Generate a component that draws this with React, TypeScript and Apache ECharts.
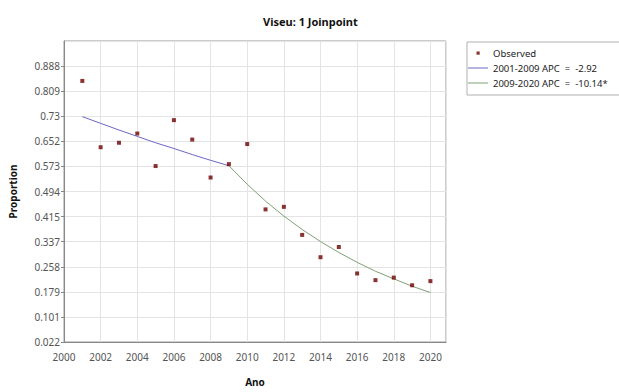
import React, { useEffect, useRef } from "react";
import * as echarts from "echarts";

const years = [2001, 2002, 2003, 2004, 2005, 2006, 2007, 2008, 2009, 2010, 2011, 2012, 2013, 2014, 2015, 2016, 2017, 2018, 2019, 2020];
const observed = [0.841, 0.633, 0.647, 0.676, 0.574, 0.718, 0.657, 0.538, 0.580, 0.643, 0.438, 0.446, 0.358, 0.288, 0.320, 0.237, 0.216, 0.224, 0.200, 0.213];

const seg1Years = [2001, 2002, 2003, 2004, 2005, 2006, 2007, 2008, 2009];
const seg1Values = [0.729, 0.708, 0.687, 0.667, 0.647, 0.629, 0.610, 0.592, 0.575];

const seg2Years = [2009, 2010, 2011, 2012, 2013, 2014, 2015, 2016, 2017, 2018, 2019, 2020];
const seg2Values = [0.575, 0.517, 0.464, 0.417, 0.375, 0.337, 0.303, 0.272, 0.244, 0.220, 0.197, 0.177];

const yTickLabels = ["0.022", "0.101", "0.179", "0.258", "0.337", "0.415", "0.494", "0.573", "0.652", "0.73", "0.809", "0.888"];
const xTickLabels = ["2000", "2002", "2004", "2006", "2008", "2010", "2012", "2014", "2016", "2018", "2020"];

const seriesNames = ["Observed", "2001-2009 APC  =  -2.92", "2009-2020 APC  =  -10.14*"];

const FONT = "Noto Sans";
const SQUARE_ICON = "path://M0,0M20,4M8.5,0.5h3.2v3.2h-3.2z";
const LINE_ICON = "path://M0,0M20,4M0,1.5h20v1h-20z";

export default function App() {
  const ref = useRef<HTMLDivElement>(null);
  useEffect(() => {
    if (!ref.current) return;
    const chart = echarts.init(ref.current, null, { renderer: "svg" });
    chart.setOption({
      animation: false,
      backgroundColor: "#ffffff",
      textStyle: { fontFamily: FONT },
      title: {
        text: "Viseu: 1 Joinpoint",
        left: 258,
        top: 11,
        textStyle: { fontSize: 11, fontWeight: "bold", color: "#111", fontFamily: FONT },
      },
      legend: {
        orient: "vertical",
        left: 467,
        top: 42,
        itemWidth: 20,
        itemHeight: 4,
        itemGap: 5,
        padding: [6, 30, 7, 1],
        borderColor: "#b0b0b0",
        borderWidth: 1,
        textStyle: { fontSize: 9.5, color: "#222", fontFamily: FONT },
        data: [
          { name: seriesNames[0], icon: SQUARE_ICON },
          { name: seriesNames[1], icon: LINE_ICON },
          { name: seriesNames[2], icon: LINE_ICON },
        ],
      },
      grid: {
        left: 62,
        right: 173,
        top: 41,
        bottom: 43,
        show: true,
        borderColor: "#999",
        borderWidth: 1,
      },
      xAxis: {
        type: "value",
        min: 2000,
        max: 2020.85,
        interval: 2,
        name: "Ano",
        nameLocation: "middle",
        nameGap: 35,
        nameTextStyle: { fontSize: 10, fontWeight: "bold", color: "#111", fontFamily: FONT },
        axisLine: { show: true, lineStyle: { color: "#888", width: 1 } },
        axisTick: { show: false },
        axisLabel: {
          fontSize: 10,
          color: "#555",
          margin: 10,
          showMaxLabel: false,
          formatter: (v: number, i: number) => xTickLabels[i] ?? "",
        },
        splitLine: { show: true, lineStyle: { color: "#e4e4e4", width: 1 } },
      },
      yAxis: {
        type: "value",
        min: 0.022,
        max: 0.022 + 12 * 0.07869,
        interval: 0.07869,
        name: "Proportion",
        nameLocation: "middle",
        nameGap: 46,
        nameRotate: 90,
        nameTextStyle: { fontSize: 10, fontWeight: "bold", color: "#111", fontFamily: FONT },
        axisLine: { show: true, lineStyle: { color: "#888", width: 1 } },
        axisTick: { show: true, length: 3, lineStyle: { color: "#888" } },
        axisLabel: {
          fontSize: 10,
          color: "#555",
          margin: 4,
          showMaxLabel: false,
          formatter: (v: number, i: number) => yTickLabels[i] ?? "",
        },
        splitLine: { show: true, lineStyle: { color: "#e4e4e4", width: 1 } },
      },
      series: [
        {
          name: seriesNames[0],
          type: "scatter",
          symbol: "rect",
          symbolSize: 4,
          itemStyle: { color: "#6e0000" },
          data: years.map((y, i) => [y, observed[i]]),
          z: 5,
        },
        {
          name: seriesNames[1],
          type: "line",
          symbol: "none",
          lineStyle: { color: "#6b67c4", width: 1 },
          itemStyle: { color: "#6b67c4" },
          data: seg1Years.map((y, i) => [y, seg1Values[i]]),
        },
        {
          name: seriesNames[2],
          type: "line",
          symbol: "none",
          lineStyle: { color: "#7f9f74", width: 1 },
          itemStyle: { color: "#7f9f74" },
          data: seg2Years.map((y, i) => [y, seg2Values[i]]),
        },
      ],
    });
    return () => chart.dispose();
  }, []);
  return (
    <div
      ref={ref}
      style={{ position: "fixed", left: 0, top: 0, width: 619, height: 392, background: "#fff" }}
    />
  );
}
